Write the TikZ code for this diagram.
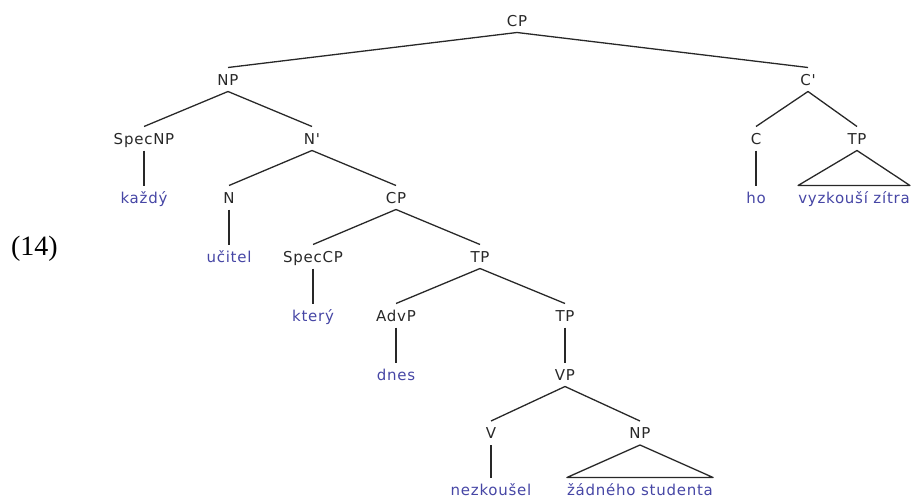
\documentclass[tikz,border=0pt]{standalone}
\usepackage{fontspec}
\newfontfamily\treefont{DejaVu Sans}[LetterSpace=5]
\newfontfamily\numfont{Liberation Serif}
\definecolor{leafblue}{RGB}{70,70,165}
\definecolor{catgray}{RGB}{40,40,40}
\begin{document}
\begin{tikzpicture}[x=1pt,y=-1pt,
  cat/.style={anchor=base, font=\treefont\fontsize{15}{18}\selectfont, text height=11pt, text depth=0pt,
              inner sep=0pt, outer ysep=6.5pt, text=catgray},
  leaf/.style={cat, text=leafblue},
  edge/.style={line width=1.3pt, catgray, line join=round}]
\useasboundingbox (0,0) rectangle (911,498);
% example number
\node[anchor=base, font=\numfont\fontsize{28}{30}\selectfont] (num) at (34.5,255) {(14)};
% row 1
\node[cat] (cp) at (517,26) {CP};
% row 2
\node[cat] (np) at (228,85) {NP};
\node[cat] (cbar) at (808,85) {C'};
% row 3
\node[cat] (specnp) at (144,144) {SpecNP};
\node[cat] (nbar) at (312,144) {N'};
\node[cat] (c) at (756,144) {C};
\node[cat] (tpa) at (857,144) {TP};
% row 4
\node[leaf] (kazdy) at (144,203) {každý};
\node[cat] (n) at (229,203) {N};
\node[cat] (cp2) at (396,203) {CP};
\node[leaf] (ho) at (756,203) {ho};
\node[leaf] (vyz) at (854,203) {vyzkouší zítra};
% row 5
\node[leaf] (ucitel) at (229,262) {učitel};
\node[cat] (speccp) at (313,262) {SpecCP};
\node[cat] (tp1) at (480,262) {TP};
% row 6
\node[leaf] (ktery) at (313,321) {který};
\node[cat] (advp) at (396,321) {AdvP};
\node[cat] (tp2) at (565,321) {TP};
% row 7
\node[leaf] (dnes) at (396,380) {dnes};
\node[cat] (vp) at (565,380) {VP};
% row 8
\node[cat] (v) at (491,438.5) {V};
\node[cat] (np2) at (640,438.5) {NP};
% row 9
\node[leaf] (nezk) at (491,495) {nezkoušel};
\node[leaf] (zadneho) at (640,495) {žádného studenta};
% edges
\draw[edge] (cp.south) -- (np.north);
\draw[edge] (cp.south) -- (cbar.north);
\draw[edge] (np.south) -- (specnp.north);
\draw[edge] (np.south) -- (nbar.north);
\draw[edge] (specnp.south) -- (kazdy.north);
\draw[edge] (nbar.south) -- (n.north);
\draw[edge] (nbar.south) -- (cp2.north);
\draw[edge] (n.south) -- (ucitel.north);
\draw[edge] (cp2.south) -- (speccp.north);
\draw[edge] (cp2.south) -- (tp1.north);
\draw[edge] (speccp.south) -- (ktery.north);
\draw[edge] (tp1.south) -- (advp.north);
\draw[edge] (tp1.south) -- (tp2.north);
\draw[edge] (advp.south) -- (dnes.north);
\draw[edge] (tp2.south) -- (vp.north);
\draw[edge] (vp.south) -- (v.north);
\draw[edge] (vp.south) -- (np2.north);
\draw[edge] (v.south) -- (nezk.north);
\draw[edge] (np2.south) -- (zadneho.north west) -- (zadneho.north east) -- cycle;
\draw[edge] (cbar.south) -- (c.north);
\draw[edge] (cbar.south) -- (tpa.north);
\draw[edge] (c.south) -- (ho.north);
\draw[edge] (tpa.south) -- (vyz.north west) -- (vyz.north east) -- cycle;
\end{tikzpicture}
\end{document}
